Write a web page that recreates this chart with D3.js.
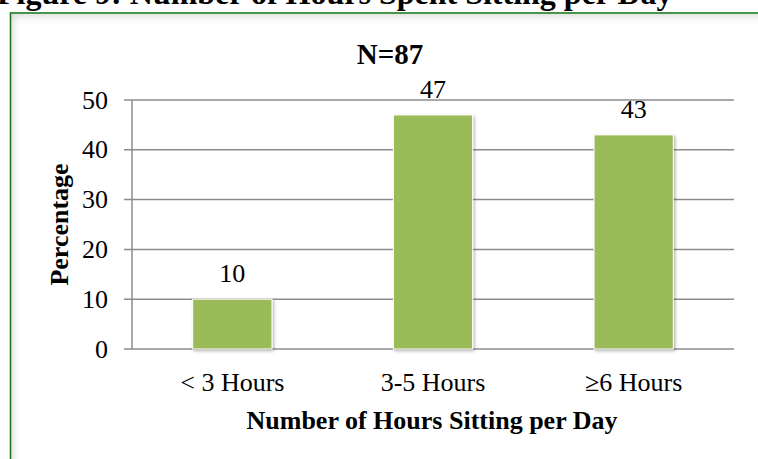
<!DOCTYPE html>
<html>
<head>
<meta charset="utf-8">
<script src="https://cdn.jsdelivr.net/npm/d3@7"></script>
<style>
  body { margin: 0; background: #fff; }
  svg { display: block; font-family: "Liberation Serif", "Times New Roman", serif; }
</style>
</head>
<body>
<div id="chart"></div>
<script>
const categories = ["< 3 Hours", "3-5 Hours", "\u22656 Hours"];
const values = [10, 47, 43];
const yTicks = [0, 10, 20, 30, 40, 50];

document.addEventListener("DOMContentLoaded", function() {
    const width = 758;
    const height = 459;
    const plot = { left: 132, right: 734, top: 100, bottom: 349 };

    const svg = d3.select("#chart")
        .append("svg")
        .attr("width", width)
        .attr("height", height);

    const defs = svg.append("defs");
    const shadow = defs.append("filter").attr("id", "barShadow")
        .attr("x", "-20%").attr("y", "-20%").attr("width", "140%").attr("height", "140%");
    shadow.append("feDropShadow")
        .attr("dx", 1.5).attr("dy", 1.5).attr("stdDeviation", 1.5)
        .attr("flood-color", "#000").attr("flood-opacity", 0.3);

    const inner = defs.append("filter").attr("id", "innerGlow")
        .attr("x", "-10%").attr("y", "-10%").attr("width", "120%").attr("height", "120%");
    inner.append("feGaussianBlur").attr("stdDeviation", 5);
    defs.append("clipPath").attr("id", "frameClip")
        .append("rect").attr("x", 11).attr("y", 14).attr("width", 760).attr("height", 460);

    // figure caption (cut off at the top)
    svg.append("text")
        .attr("x", -3)
        .attr("y", 4)
        .attr("font-size", 32)
        .attr("font-weight", "bold")
        .text("Figure 9: Number of Hours Spent Sitting per Day");

    // chart frame with soft inner shade
    svg.append("g").attr("clip-path", "url(#frameClip)")
        .append("rect")
        .attr("x", 8).attr("y", 11).attr("width", 790).attr("height", 490)
        .attr("fill", "none")
        .attr("stroke", "#c9d3cb")
        .attr("stroke-width", 8)
        .attr("filter", "url(#innerGlow)");
    svg.append("rect")
        .attr("x", 10.5).attr("y", 13).attr("width", 800).attr("height", 500)
        .attr("fill", "none")
        .attr("stroke", "#1f7a1f")
        .attr("stroke-width", 1.6);

    const x = d3.scaleBand()
        .domain(categories)
        .range([plot.left, plot.right])
        .padding(0);

    const y = d3.scaleLinear()
        .domain([0, 50])
        .range([plot.bottom, plot.top]);

    const barW = x.bandwidth() * 0.395;

    // gridlines
    svg.append("g")
        .selectAll("line")
        .data(yTicks)
        .join("line")
        .attr("x1", plot.left - 8)
        .attr("x2", plot.right)
        .attr("y1", d => y(d))
        .attr("y2", d => y(d))
        .attr("stroke", "#8c8c8c")
        .attr("stroke-width", 1.5);

    // y axis line
    svg.append("line")
        .attr("x1", plot.left).attr("x2", plot.left)
        .attr("y1", y(50)).attr("y2", y(0))
        .attr("stroke", "#8c8c8c")
        .attr("stroke-width", 1.5);

    // y tick labels
    svg.append("g")
        .selectAll("text")
        .data(yTicks)
        .join("text")
        .attr("x", 108)
        .attr("y", d => y(d))
        .attr("dy", "0.33em")
        .attr("text-anchor", "end")
        .attr("font-size", 26)
        .text(d => d);

    // bars
    svg.append("g")
        .selectAll("rect")
        .data(values)
        .join("rect")
        .attr("x", (d, i) => x(categories[i]) + (x.bandwidth() - barW) / 2)
        .attr("y", d => y(d))
        .attr("width", barW)
        .attr("height", d => y(0) - y(d))
        .attr("fill", "#9bbb59")
        .attr("stroke", "#fff")
        .attr("stroke-width", 1)
        .attr("filter", "url(#barShadow)");

    // value labels
    svg.append("g")
        .selectAll("text")
        .data(values)
        .join("text")
        .attr("x", (d, i) => x(categories[i]) + x.bandwidth() / 2)
        .attr("y", d => y(d) - 17)
        .attr("text-anchor", "middle")
        .attr("font-size", 26)
        .text(d => d);

    // category labels
    svg.append("g")
        .selectAll("text")
        .data(categories)
        .join("text")
        .attr("x", d => x(d) + x.bandwidth() / 2)
        .attr("y", 391)
        .attr("text-anchor", "middle")
        .attr("font-size", 26)
        .text(d => d);

    // N label
    svg.append("text")
        .attr("x", 390)
        .attr("y", 64)
        .attr("text-anchor", "middle")
        .attr("font-size", 29)
        .attr("font-weight", "bold")
        .text("N=87");

    // axis titles
    svg.append("text")
        .attr("x", 432)
        .attr("y", 429)
        .attr("text-anchor", "middle")
        .attr("font-size", 26)
        .attr("font-weight", "bold")
        .text("Number of Hours Sitting per Day");

    svg.append("text")
        .attr("transform", `translate(68, ${(plot.top + plot.bottom) / 2}) rotate(-90)`)
        .attr("text-anchor", "middle")
        .attr("font-size", 26)
        .attr("font-weight", "bold")
        .text("Percentage");
});
</script>
</body>
</html>
